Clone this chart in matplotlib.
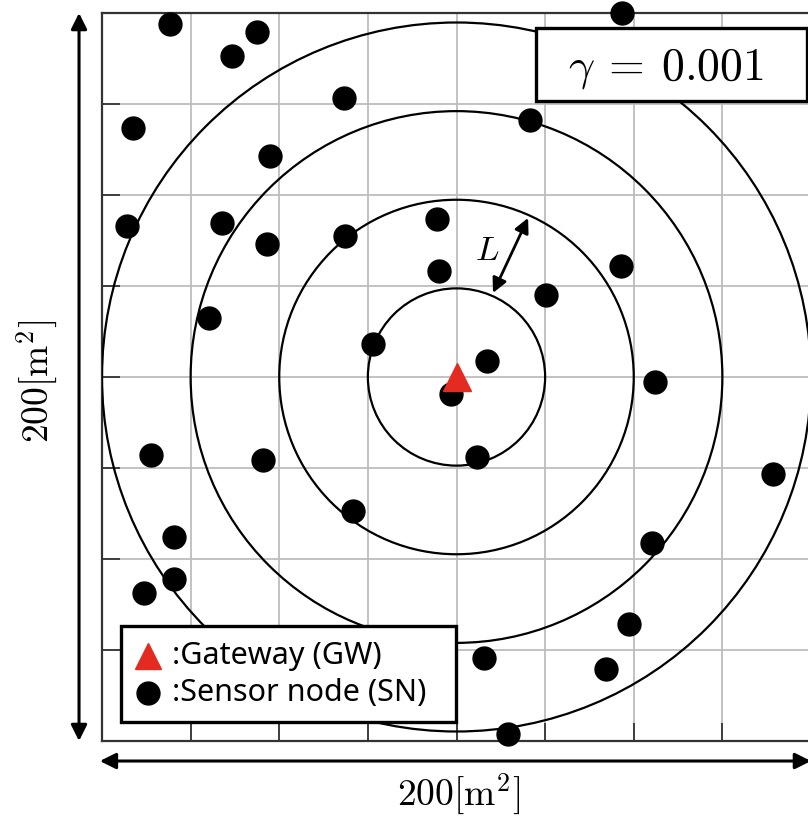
import numpy as np
import matplotlib
matplotlib.use("Agg")
import matplotlib.pyplot as plt
from matplotlib.patches import Ellipse, Rectangle

plt.rcParams['mathtext.fontset'] = 'cm'

# field is 200 m x 200 m, gateway in the middle
field_size = 200
grid_step = 25
gw_x = [100.0]
gw_y = [100.0]
ring_radii = [25, 50, 75, 100]

# sensor nodes
sn_x = [19.2, 36.7, 43.7, 146.7, 8.7, 68.3, 120.7, 47.4, 7.1, 33.9,
        46.5, 68.5, 94.5, 95.1, 146.4, 125.2, 30.2, 76.4, 108.6, 98.4,
        156.0, 13.8, 45.4, 105.8, 189.3, 70.8, 20.3, 155.1, 20.3, 11.8,
        148.7, 107.8, 142.2, 114.5]
sn_y = [197.0, 188.2, 194.8, 200.0, 168.4, 176.6, 170.6, 160.7, 141.5, 142.3,
        136.5, 138.7, 143.4, 129.1, 130.5, 122.5, 116.2, 109.1, 104.4, 95.3,
        98.6, 78.6, 77.2, 78.0, 73.4, 63.2, 56.0, 54.4, 44.5, 40.7,
        32.1, 22.8, 19.8, 1.9]

gamma_label = r'$\gamma\:=\:0.001$'
side_label = r'$200[\mathrm{m}^2]$'

fig = plt.figure(figsize=(8.08, 8.18), dpi=100)
ax = fig.add_axes([102/808, 77/818, 709/808, 728/818])
ax.set_xlim(0, field_size)
ax.set_ylim(0, field_size)

ticks = np.arange(0, field_size + 1, grid_step)
ax.set_xticks(ticks)
ax.set_yticks(ticks)
ax.set_xticklabels([])
ax.set_yticklabels([])
ax.grid(True, color='#bdbdbd', lw=1.3)
ax.set_axisbelow(True)
ax.tick_params(direction='in', length=13, width=1.3, color='#333333')
for s in ['left', 'top', 'bottom']:
    ax.spines[s].set_linewidth(1.6)
    ax.spines[s].set_color('#333333')
ax.spines['right'].set_visible(False)

# rings drawn round in pixels
bb = ax.get_window_extent()
k = bb.width / bb.height
for r in ring_radii:
    ax.add_patch(Ellipse((gw_x[0], gw_y[0]), 2 * r, 2 * r * k,
                         fill=False, ec='black', lw=1.6, zorder=3))

ax.plot(sn_x, sn_y, 'o', color='black', ms=16.5, zorder=4, clip_on=False)
ax.plot(gw_x, gw_y, '^', color='#e32b22', ms=19.5, zorder=5)

# ring width arrow
ax.annotate('', xy=(120.2, 143.7), xytext=(110.3, 123.1),
            arrowprops=dict(arrowstyle='<|-|>', color='black', lw=2,
                            mutation_scale=22, shrinkA=0, shrinkB=0), zorder=6)
ax.text(108.6, 134.9, r'$L$', fontsize=25, ha='center', va='center', zorder=6)

# gamma box
ax.add_patch(Rectangle((0.612, 0.879), 0.382, 0.100, transform=ax.transAxes,
                       fc='white', ec='black', lw=2.4, zorder=7, clip_on=False))
ax.text(0.795, 0.908, gamma_label, transform=ax.transAxes, fontsize=33,
        ha='center', va='baseline', zorder=8)

# legend box
ax.add_patch(Rectangle((0.0268, 0.026), 0.472, 0.132, transform=ax.transAxes,
                       fc='white', ec='black', lw=2.4, zorder=7))
ax.plot([0.065], [0.117], '^', color='#e32b22', ms=19, transform=ax.transAxes, zorder=8)
ax.plot([0.065], [0.066], 'o', color='black', ms=16.5, transform=ax.transAxes, zorder=8)
leg_font = ['Noto Sans', 'DejaVu Sans']
ax.text(0.099, 0.117, ':Gateway (GW)', transform=ax.transAxes, fontsize=22,
        family=leg_font, ha='left', va='center', zorder=8)
ax.text(0.099, 0.066, ':Sensor node (SN)', transform=ax.transAxes, fontsize=22,
        family=leg_font, ha='left', va='center', zorder=8)

# size arrows outside the axes
arr = dict(arrowstyle='<|-|>', color='black', lw=2.2, mutation_scale=24,
           shrinkA=0, shrinkB=0)
ax.annotate('', xy=(-0.0324, 1.0), xytext=(-0.0324, 0.0), xycoords='axes fraction',
            arrowprops=arr, annotation_clip=False)
ax.annotate('', xy=(1.0, -0.0275), xytext=(-0.003, -0.0275), xycoords='axes fraction',
            arrowprops=arr, annotation_clip=False)

fig.text(0.0458, 0.534, side_label, fontsize=27, rotation=90, ha='center', va='center')
fig.text(0.568, 0.029, side_label, fontsize=27, ha='center', va='center')

fig.savefig('out.png', dpi=100)
